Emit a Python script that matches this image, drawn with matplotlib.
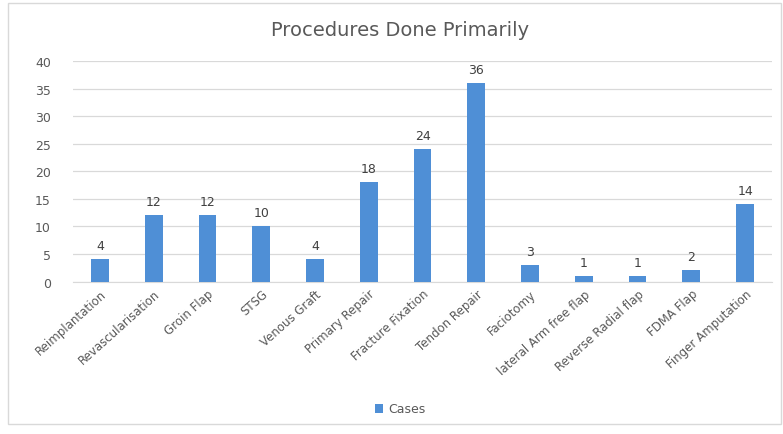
import matplotlib
matplotlib.use("Agg")
import matplotlib.pyplot as plt
from matplotlib.patches import Rectangle

categories = ["Reimplantation", "Revascularisation", "Groin Flap", "STSG", "Venous Graft",
              "Primary Repair", "Fracture Fixation", "Tendon Repair", "Faciotomy",
              "lateral Arm free flap", "Reverse Radial flap", "FDMA Flap", "Finger Amputation"]
cases = [4, 12, 12, 10, 4, 18, 24, 36, 3, 1, 1, 2, 14]
yticks = [0, 5, 10, 15, 20, 25, 30, 35, 40]

txt = "#595959"
bar_color = "#4F8FD6"

fig = plt.figure(figsize=(7.83, 4.35), dpi=100)
fig.patch.set_facecolor("white")
fig.add_artist(Rectangle((8/783, 1-425/435), (781-8)/783, (425-4)/435, transform=fig.transFigure,
                         fill=False, edgecolor="#D9D9D9", linewidth=1))

ax = fig.add_axes([73/783, 1-282.5/435, (772-73)/783, (282.5-62)/435])
x = list(range(len(categories)))
bars = ax.bar(x, cases, width=0.33, color=bar_color, label="Cases", zorder=3)
for xi, v in zip(x, cases):
    ax.text(xi, v + 1.3, str(v), ha="center", va="bottom", fontsize=9, color="#404040")

ax.set_xlim(-0.5, len(categories) - 0.5)
ax.set_ylim(0, 40)
ax.set_yticks(yticks)
ax.set_yticklabels([str(t) for t in yticks], fontsize=9, color=txt)
ax.yaxis.grid(True, color="#D9D9D9", linewidth=0.9, zorder=0)
ax.set_axisbelow(True)
for s in ["top", "right", "left"]:
    ax.spines[s].set_visible(False)
ax.spines["bottom"].set_color("#D9D9D9")
ax.tick_params(axis="y", length=0, pad=16)
ax.tick_params(axis="x", length=0, pad=4)
ax.set_xticks(x)
ax.set_xticklabels(categories, rotation=42, ha="right", rotation_mode="anchor",
                   fontsize=8.5, color=txt)

fig.text(400/783, 1-30/435, "Procedures Done Primarily", ha="center", va="center",
         fontsize=14, color=txt)

leg = fig.legend(handles=[bars], labels=["Cases"], loc="center", bbox_to_anchor=(400/783, 1-410/435),
                 frameon=False, fontsize=9, handlelength=0.7, handleheight=0.7, handletextpad=0.4)
for t in leg.get_texts():
    t.set_color(txt)

fig.savefig("out.png", dpi=100)
